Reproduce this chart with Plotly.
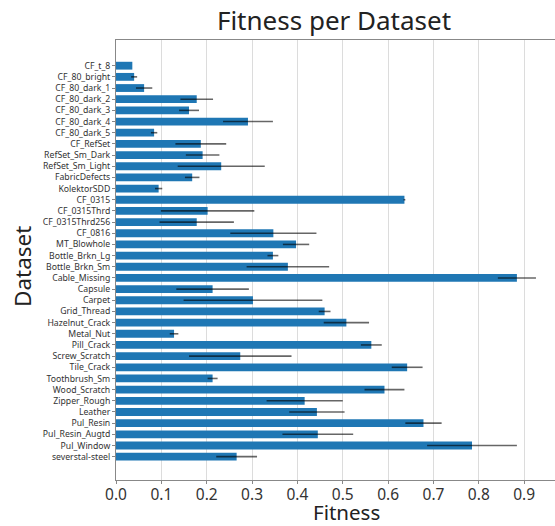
import plotly.graph_objects as go

datasets = ["CF_t_8", "CF_80_bright", "CF_80_dark_1", "CF_80_dark_2", "CF_80_dark_3",
            "CF_80_dark_4", "CF_80_dark_5", "CF_RefSet", "RefSet_Sm_Dark", "RefSet_Sm_Light",
            "FabricDefects", "KolektorSDD", "CF_0315", "CF_0315Thrd", "CF_0315Thrd256",
            "CF_0816", "MT_Blowhole", "Bottle_Brkn_Lg", "Bottle_Brkn_Sm", "Cable_Missing",
            "Capsule", "Carpet", "Grid_Thread", "Hazelnut_Crack", "Metal_Nut", "Pill_Crack",
            "Screw_Scratch", "Tile_Crack", "Toothbrush_Sm", "Wood_Scratch", "Zipper_Rough",
            "Leather", "Pul_Resin", "Pul_Resin_Augtd", "Pul_Window", "severstal-steel"]

fitness = [0.036, 0.040, 0.062, 0.178, 0.161, 0.291, 0.084, 0.187, 0.191, 0.232,
           0.168, 0.094, 0.636, 0.202, 0.178, 0.347, 0.397, 0.346, 0.379, 0.884,
           0.213, 0.302, 0.460, 0.508, 0.128, 0.563, 0.274, 0.642, 0.213, 0.592,
           0.416, 0.443, 0.678, 0.445, 0.785, 0.266]

fitness_err = [0.0, 0.0066, 0.018, 0.036, 0.022, 0.055, 0.007, 0.056, 0.037, 0.096,
               0.016, 0.008, 0.002, 0.103, 0.082, 0.095, 0.029, 0.012, 0.091, 0.042,
               0.080, 0.153, 0.013, 0.050, 0.0095, 0.023, 0.113, 0.034, 0.011, 0.044,
               0.084, 0.061, 0.040, 0.078, 0.099, 0.045]

x_ticks = [0.0, 0.1, 0.2, 0.3, 0.4, 0.5, 0.6, 0.7, 0.8, 0.9]

positions = list(range(len(datasets)))

fig = go.Figure()
fig.add_trace(go.Bar(
    y=positions, x=fitness, orientation="h",
    marker=dict(color="#1f77b4", line=dict(width=0)),
    width=0.7,
    error_x=dict(type="data", array=fitness_err, color="rgba(0,0,0,0.6)",
                 thickness=1.6, width=0),
))

font_family = "Noto Sans, Open Sans, DejaVu Sans, sans-serif"

L, R, T, B = 116, 0, 40, 46
W, H = 555, 526
plot_w = W - L - R
plot_h = H - T - B

fig.update_layout(
    width=W, height=H,
    margin=dict(l=L, r=R, t=T, b=B, autoexpand=False),
    paper_bgcolor="white", plot_bgcolor="white",
    showlegend=False,
    font=dict(family=font_family, color="#333"),
    title=dict(text="Fitness per Dataset", x=334 / W, xanchor="center",
               y=1 - 21 / H, yanchor="middle",
               font=dict(size=26, color="#222", family=font_family)),
    xaxis=dict(range=[0, 0.968], tickvals=x_ticks,
               ticktext=[f"{v:.1f}" for v in x_ticks],
               showgrid=True, gridcolor="#dcdcdc", gridwidth=1,
               showline=True, linecolor="#888", linewidth=1, mirror=True,
               ticks="outside", ticklen=3, tickcolor="#888", automargin=False,
               ticklabelstandoff=-3,
               tickfont=dict(size=15.5, color="#333"), zeroline=False),
    yaxis=dict(range=[37.09, -2.3], tickvals=positions, ticktext=datasets,
               showgrid=False, showline=True, linecolor="#888", linewidth=1,
               mirror=True, ticks="outside", ticklen=3, tickcolor="#888",
               automargin=False,
               tickfont=dict(size=8.7, color="#333"), zeroline=False),
    annotations=[
        dict(text="Fitness", x=(346 - L) / plot_w, xref="paper",
             y=-(512 - (H - B)) / plot_h,
             yref="paper", xanchor="center", yanchor="middle",
             showarrow=False, font=dict(size=20.5, color="#222")),
        dict(text="Dataset", x=-(L - 22) / plot_w, xref="paper",
             y=((H - B) - 267) / plot_h, yref="paper",
             xanchor="center", yanchor="middle", textangle=-90,
             showarrow=False, font=dict(size=22.5, color="#222")),
    ],
)

fig.write_html("out.html", config={"displayModeBar": False},
               post_script="document.body.style.margin='0';document.body.style.overflow='hidden';")
